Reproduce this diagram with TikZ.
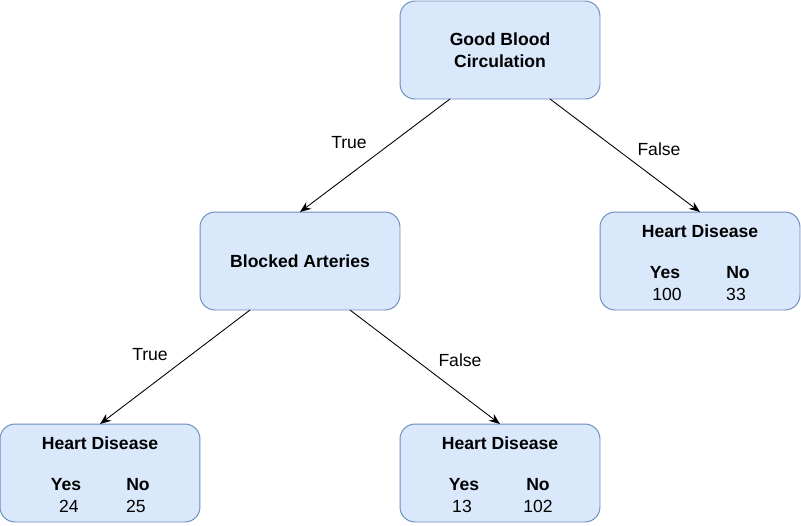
\documentclass[tikz,border=0pt]{standalone}
\usepackage{fontspec}
\setmainfont{Liberation Sans}
\usepackage{tikz}
\usetikzlibrary{arrows.meta}
\definecolor{DTFill}{RGB}{218,232,252}
\definecolor{DTFrame}{RGB}{108,142,191}
\definecolor{DTInk}{RGB}{0,0,0}

\begin{document}
\begin{tikzpicture}[
x=0.02cm,
y=-0.02cm,
every node/.style={font=\fontsize{10}{12.2}\selectfont,text=DTInk,outer sep=0pt},
treeNode/.style={draw=DTFrame,fill=DTFill,rounded corners=0.3cm,line width=0.55pt,minimum width=4cm,minimum height=1.96cm,align=center,inner sep=0pt,font=\fontsize{10}{12.2}\selectfont\bfseries},
leafTitle/.style={font=\fontsize{10}{12}\selectfont\bfseries,inner sep=0pt},
leafHead/.style={font=\fontsize{10}{12}\selectfont\bfseries,inner sep=0pt},
leafCount/.style={inner sep=0pt},
branchLabel/.style={inner sep=0pt},
branchflow/.style={-{Stealth[length=2.2mm,width=1.7mm]},line width=0.5pt,draw=black}
]

\path[use as bounding box] (0,0) rectangle (801,525);

% split nodes
\node[treeNode] (good) at (500,50) {Good Blood\\Circulation};
\node[treeNode] (blocked) at (300,261) {Blocked Arteries};

% leaf: good = false
\node[treeNode] (leafR) at (700,261) {};
\node[leafTitle] (leafRtitle) at (700,231) {Heart Disease};
\node[leafHead] (leafRyes) at (665,273) {Yes};
\node[leafHead] (leafRno) at (738,273) {No};
\node[leafCount] (leafRyesN) at (667,294) {100};
\node[leafCount] (leafRnoN) at (736,294) {33};

% leaf: blocked = true
\node[treeNode] (leafL) at (100,473) {};
\node[leafTitle] (leafLtitle) at (100,443) {Heart Disease};
\node[leafHead] (leafLyes) at (66,485) {Yes};
\node[leafHead] (leafLno) at (138,485) {No};
\node[leafCount] (leafLyesN) at (69,506) {24};
\node[leafCount] (leafLnoN) at (136,506) {25};

% leaf: blocked = false
\node[treeNode] (leafM) at (500,473) {};
\node[leafTitle] (leafMtitle) at (500,443) {Heart Disease};
\node[leafHead] (leafMyes) at (464,485) {Yes};
\node[leafHead] (leafMno) at (538,485) {No};
\node[leafCount] (leafMyesN) at (462,506) {13};
\node[leafCount] (leafMnoN) at (538,506) {102};

% branches
\draw[branchflow] ([xshift=-1cm]good.south) -- (blocked.north)
  node[branchLabel,midway,xshift=-0.52cm,yshift=0.25cm] (goodTrue) {True};
\draw[branchflow] ([xshift=1cm]good.south) -- (leafR.north)
  node[branchLabel,midway,xshift=0.68cm,yshift=0.13cm] (goodFalse) {False};
\draw[branchflow] ([xshift=-1cm]blocked.south) -- (leafL.north)
  node[branchLabel,midway,xshift=-0.5cm,yshift=0.24cm] (blockedTrue) {True};
\draw[branchflow] ([xshift=1cm]blocked.south) -- (leafM.north)
  node[branchLabel,midway,xshift=0.7cm,yshift=0.14cm] (blockedFalse) {False};

\end{tikzpicture}
\end{document}
